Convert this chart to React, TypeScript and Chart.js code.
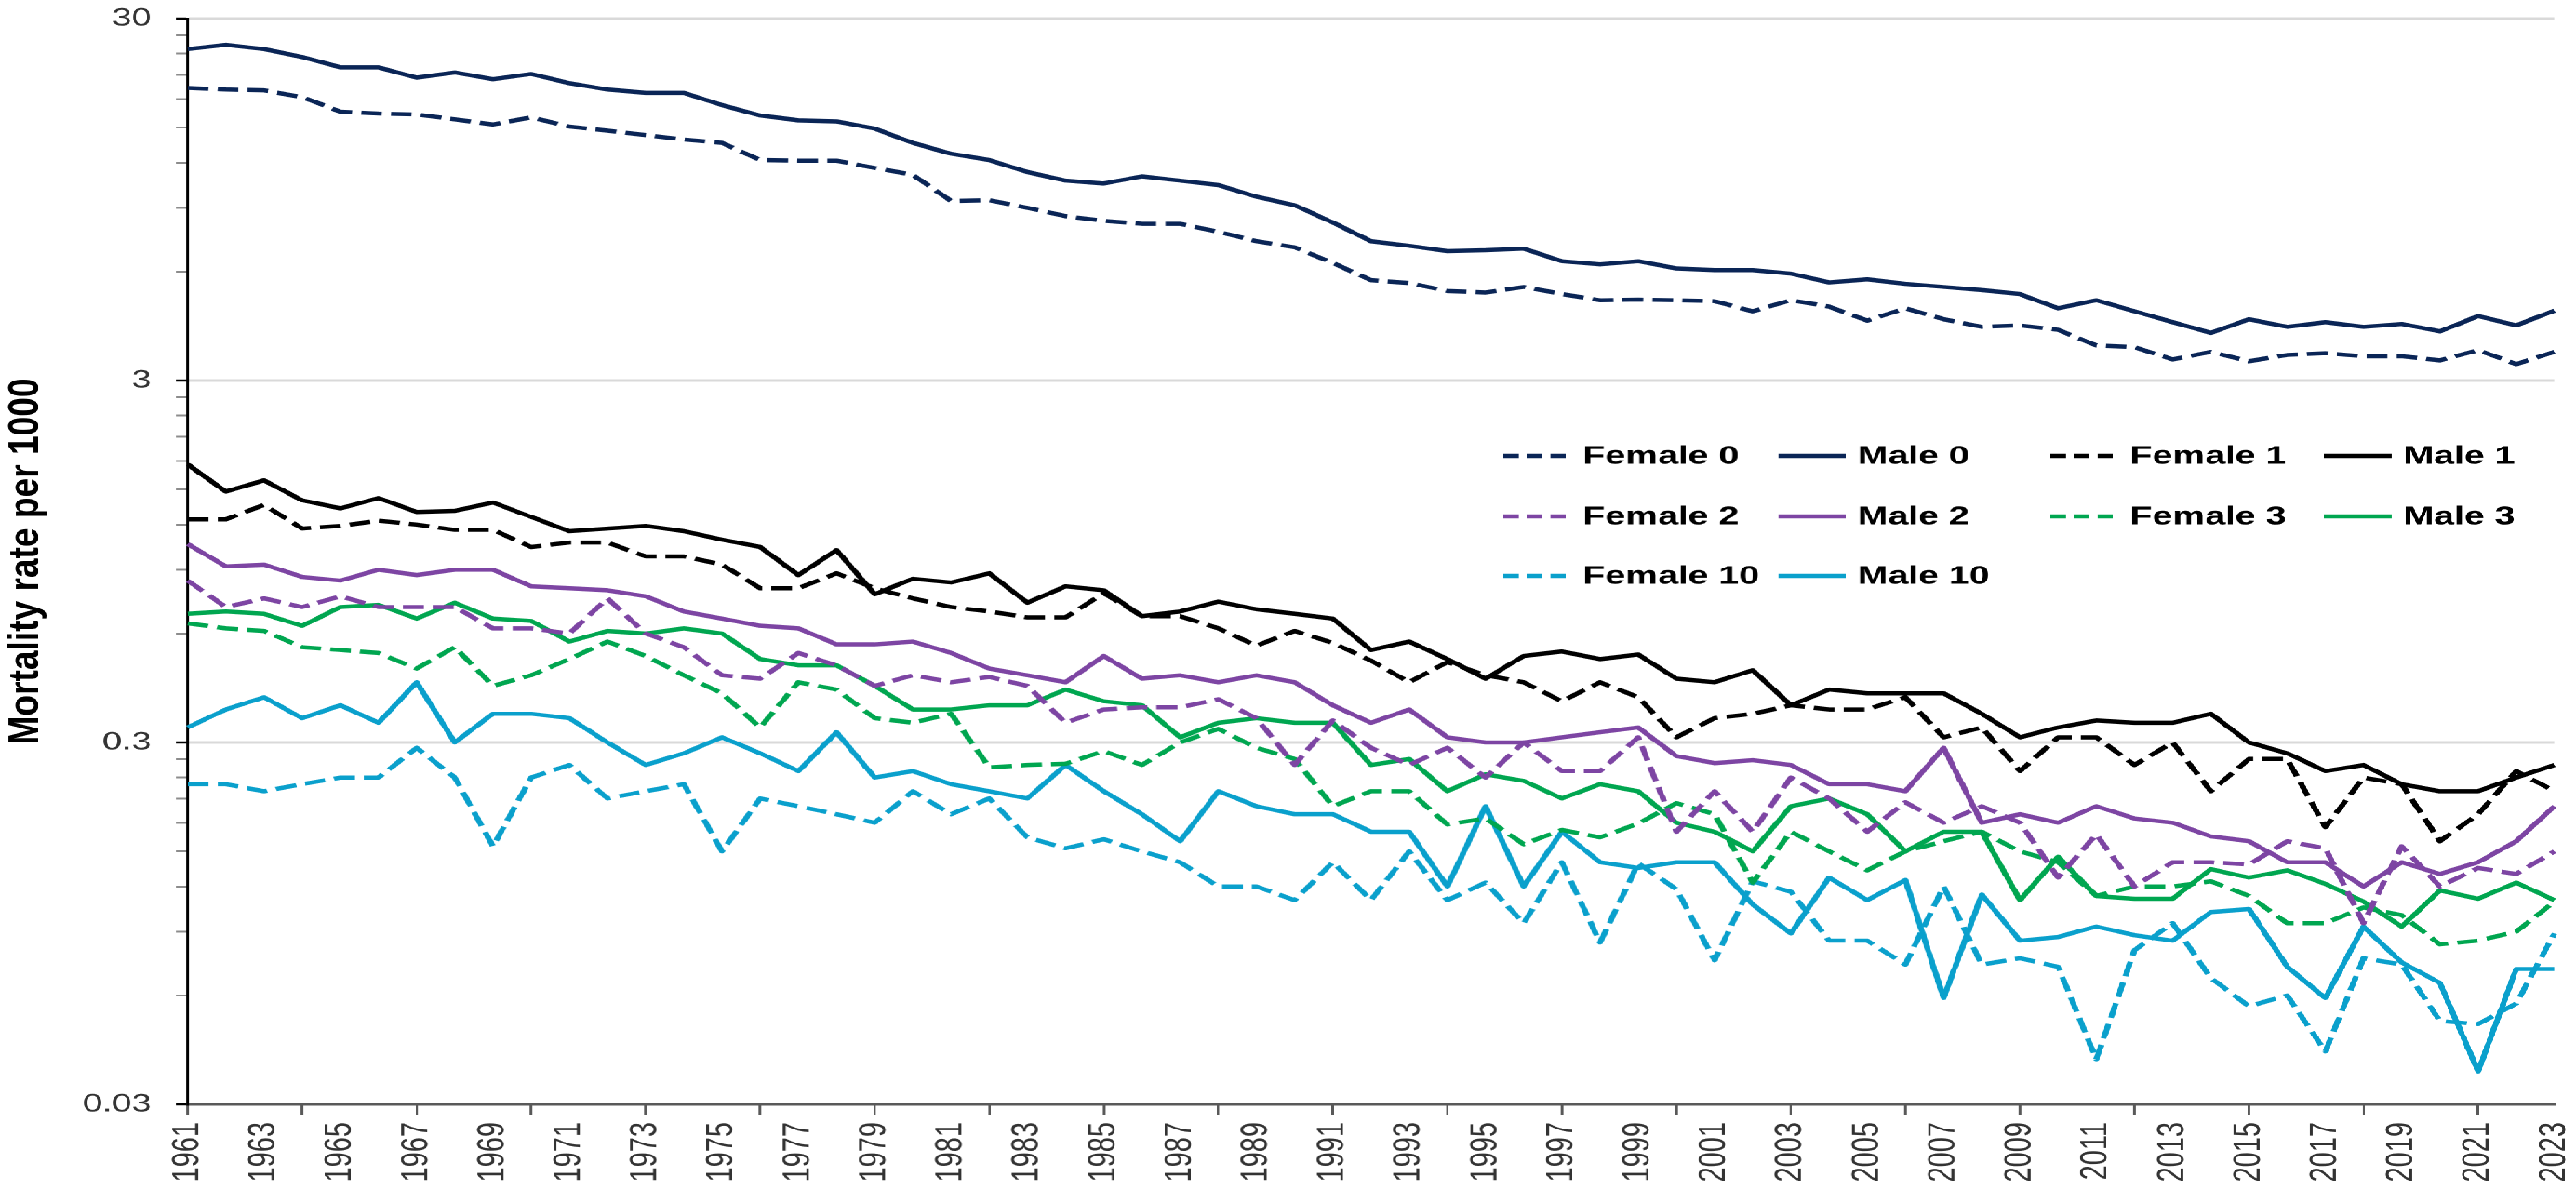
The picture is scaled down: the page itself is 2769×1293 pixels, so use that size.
import React, { useEffect, useRef } from "react";
import { Chart, registerables } from "chart.js";

Chart.register(...registerables);

// ---------- data ----------
const years = [
  "1961", "1962", "1963", "1964", "1965", "1966", "1967", "1968", "1969", "1970",
  "1971", "1972", "1973", "1974", "1975", "1976", "1977", "1978", "1979", "1980",
  "1981", "1982", "1983", "1984", "1985", "1986", "1987", "1988", "1989", "1990",
  "1991", "1992", "1993", "1994", "1995", "1996", "1997", "1998", "1999", "2000",
  "2001", "2002", "2003", "2004", "2005", "2006", "2007", "2008", "2009", "2010",
  "2011", "2012", "2013", "2014", "2015", "2016", "2017", "2018", "2019", "2020",
  "2021", "2022", "2023",
];

const female0 = [
  19.3, 19.1, 19.0, 18.2, 16.6, 16.4, 16.3, 15.8, 15.3, 16.0, 15.1, 14.7, 14.3, 13.9, 13.6, 12.2, 12.15, 12.15, 11.6, 11.1,
  9.4, 9.45, 9.0, 8.54, 8.29, 8.13, 8.13, 7.73, 7.28, 7.0, 6.34, 5.68,
  5.58, 5.3, 5.25, 5.44, 5.2, 5.0, 5.02, 5.0, 4.97, 4.66, 5.0, 4.8, 4.39, 4.75, 4.43, 4.22, 4.26, 4.14, 3.75, 3.71,
  3.43, 3.6, 3.39, 3.53, 3.57, 3.5, 3.5, 3.41, 3.64, 3.33, 3.6,
];
const male0 = [
  24.7, 25.4, 24.7, 23.5, 22.0, 22.0, 20.6, 21.3, 20.4, 21.1, 19.9, 19.1, 18.7, 18.7, 17.3, 16.2, 15.7, 15.6, 14.9, 13.6,
  12.7, 12.2, 11.3, 10.7, 10.5, 11.0, 10.7, 10.4, 9.66, 9.15, 8.2, 7.28,
  7.07, 6.83, 6.87, 6.94, 6.41, 6.28, 6.41, 6.12, 6.06, 6.06, 5.92, 5.6, 5.71, 5.55, 5.44, 5.33, 5.2, 4.75, 5.0, 4.66,
  4.35, 4.06, 4.43, 4.22, 4.35, 4.22, 4.3, 4.1, 4.52, 4.26, 4.68,
];
const female1 = [
  1.24, 1.24, 1.36, 1.17, 1.19, 1.23, 1.2, 1.16, 1.16, 1.04, 1.07, 1.07, 0.98, 0.98, 0.93, 0.8, 0.8, 0.88, 0.8, 0.75, 0.71,
  0.69, 0.665, 0.665, 0.775, 0.67, 0.67, 0.62, 0.555, 0.61, 0.565, 0.505, 0.44, 0.5, 0.46, 0.44, 0.39, 0.44, 0.4, 0.31, 0.35, 0.36,
  0.38, 0.37, 0.37, 0.4, 0.31, 0.33, 0.25, 0.31, 0.31, 0.26, 0.3, 0.22, 0.27, 0.27, 0.175, 0.24, 0.23, 0.16, 0.19, 0.25, 0.22,
];
const male1 = [
  1.76, 1.48, 1.59, 1.4, 1.33, 1.42, 1.3, 1.31, 1.38, 1.26, 1.15, 1.17, 1.19, 1.15, 1.09, 1.04, 0.87, 1.02, 0.77, 0.85, 0.83,
  0.88, 0.73, 0.81, 0.79, 0.67, 0.69, 0.735, 0.7, 0.68, 0.66, 0.54, 0.57, 0.51, 0.45, 0.52, 0.535, 0.51, 0.525, 0.45, 0.44, 0.475,
  0.38, 0.42, 0.41, 0.41, 0.41, 0.36, 0.31, 0.33, 0.345, 0.34, 0.34, 0.36, 0.3, 0.28, 0.25, 0.26, 0.23, 0.22, 0.22, 0.24, 0.26,
];
const female2 = [
  0.84, 0.71, 0.75, 0.71, 0.76, 0.71, 0.71, 0.71, 0.62, 0.62, 0.6, 0.75, 0.6, 0.55, 0.46, 0.45, 0.53, 0.49, 0.43, 0.46, 0.44,
  0.455, 0.43, 0.34, 0.37, 0.375, 0.375, 0.395, 0.35, 0.26, 0.345, 0.29, 0.26, 0.29, 0.24, 0.3, 0.25, 0.25, 0.31, 0.17, 0.22, 0.17,
  0.24, 0.21, 0.17, 0.205, 0.18, 0.2, 0.18, 0.127, 0.167, 0.12, 0.14, 0.14, 0.138, 0.16, 0.153, 0.095, 0.155, 0.12, 0.135, 0.13, 0.15,
];
const male2 = [
  1.06, 0.92, 0.93, 0.86, 0.84, 0.9, 0.87, 0.9, 0.9, 0.81, 0.8, 0.79, 0.76, 0.69, 0.66, 0.63, 0.62, 0.56, 0.56, 0.57, 0.53,
  0.48, 0.46, 0.44, 0.52, 0.45, 0.46, 0.44, 0.46, 0.44, 0.38, 0.34, 0.37, 0.31, 0.3, 0.3, 0.31, 0.32, 0.33, 0.275, 0.263, 0.268,
  0.26, 0.23, 0.23, 0.22, 0.29, 0.18, 0.19, 0.18, 0.2, 0.185, 0.18, 0.165, 0.16, 0.14, 0.14, 0.12, 0.14, 0.13, 0.14, 0.16, 0.2,
];
const female3 = [
  0.64, 0.62, 0.61, 0.55, 0.54, 0.53, 0.48, 0.55, 0.43, 0.46, 0.51, 0.57, 0.52, 0.46, 0.41, 0.33, 0.44, 0.42, 0.35, 0.34, 0.36,
  0.256, 0.26, 0.262, 0.284, 0.26, 0.3, 0.327, 0.29, 0.27, 0.2, 0.22, 0.22, 0.178, 0.185, 0.157, 0.172, 0.164, 0.179, 0.204, 0.19, 0.123,
  0.17, 0.15, 0.133, 0.15, 0.16, 0.17, 0.15, 0.14, 0.113, 0.12, 0.12, 0.124, 0.113, 0.095, 0.095, 0.105, 0.1, 0.083, 0.085, 0.09, 0.109,
];
const male3 = [
  0.68, 0.69, 0.68, 0.63, 0.71, 0.72, 0.66, 0.73, 0.66, 0.65, 0.57, 0.61, 0.6, 0.62, 0.6, 0.51, 0.49, 0.49, 0.43, 0.37, 0.37,
  0.38, 0.38, 0.42, 0.39, 0.38, 0.31, 0.34, 0.35, 0.34, 0.34, 0.26, 0.27, 0.22, 0.245, 0.235, 0.21, 0.23, 0.22, 0.18, 0.17, 0.15,
  0.2, 0.21, 0.19, 0.15, 0.17, 0.17, 0.11, 0.145, 0.113, 0.111, 0.111, 0.134, 0.127, 0.133, 0.122, 0.109, 0.093, 0.117, 0.111, 0.123, 0.11,
];
const female10 = [
  0.23, 0.23, 0.22, 0.23, 0.24, 0.24, 0.29, 0.24, 0.155, 0.24, 0.26, 0.21, 0.22, 0.23, 0.15, 0.21, 0.2, 0.19, 0.18, 0.22, 0.19,
  0.21, 0.164, 0.153, 0.162, 0.15, 0.14, 0.12, 0.12, 0.11, 0.14, 0.11, 0.15, 0.11, 0.123, 0.095, 0.14, 0.084, 0.139, 0.118, 0.075, 0.124,
  0.116, 0.085, 0.085, 0.073, 0.12, 0.073, 0.076, 0.072, 0.04, 0.08, 0.095, 0.067, 0.056, 0.06, 0.042, 0.076, 0.073, 0.051, 0.05, 0.057, 0.089,
];
const male10 = [
  0.33, 0.37, 0.4, 0.35, 0.38, 0.34, 0.44, 0.3, 0.36, 0.36, 0.35, 0.3, 0.26, 0.28, 0.31, 0.28, 0.25, 0.32, 0.24, 0.25, 0.23,
  0.22, 0.21, 0.26, 0.22, 0.19, 0.16, 0.22, 0.2, 0.19, 0.19, 0.17, 0.17, 0.12, 0.2, 0.12, 0.17, 0.14, 0.135, 0.14, 0.14, 0.107,
  0.089, 0.127, 0.11, 0.125, 0.059, 0.114, 0.085, 0.087, 0.093, 0.088, 0.085, 0.102, 0.104, 0.072, 0.059, 0.093, 0.074, 0.065, 0.037, 0.071, 0.071,
];

const seriesLabels = [
  "Female 0", "Male 0", "Female 1", "Male 1",
  "Female 2", "Male 2", "Female 3", "Male 3",
  "Female 10", "Male 10",
];
const yMajorTicks = [0.03, 0.3, 3, 30];
const yMinorSteps = [2, 3, 4, 5, 6, 7, 8, 9];
const yAxisTitle = "Mortality rate per 1000";

// ---------- styles ----------
const STRETCH = 1.4;
const FONT = '"Liberation Sans", Arial, Helvetica, sans-serif';
const NAVY = "#0a2556";
const BLACK = "#000000";
const PURPLE = "#7d45a3";
const GREEN = "#00a650";
const CYAN = "#0aa0cc";
const DASH = [16, 7];

const seriesValues = [female0, male0, female1, male1, female2, male2, female3, male3, female10, male10];
const seriesColors = [NAVY, NAVY, BLACK, BLACK, PURPLE, PURPLE, GREEN, GREEN, CYAN, CYAN];
const seriesDashed = [true, false, true, false, true, false, true, false, true, false];

const isMajor = (v: number) => yMajorTicks.some((m) => Math.abs(m - v) / m < 1e-6);

const allYTicks: number[] = (() => {
  const out: number[] = [];
  for (let d = 0; d < yMajorTicks.length; d++) {
    out.push(yMajorTicks[d]);
    if (d < yMajorTicks.length - 1) {
      for (const k of yMinorSteps) out.push(yMajorTicks[d] * k);
    }
  }
  return out;
})();

const legendPlugin = {
  id: "insideLegend",
  afterDatasetsDraw(chart: any) {
    const ctx = chart.ctx as CanvasRenderingContext2D;
    const cols = [1154, 1365, 1574, 1784];
    const rows = [490, 555, 619];
    chart.data.datasets.forEach((ds: any, i: number) => {
      const x = cols[i % 4];
      const y = rows[Math.floor(i / 4)];
      ctx.save();
      ctx.strokeStyle = ds.borderColor;
      ctx.lineWidth = 4.5;
      ctx.setLineDash(ds.borderDash && ds.borderDash.length ? [12, 6] : []);
      ctx.beginPath();
      ctx.moveTo(x, y);
      ctx.lineTo(x + 52, y);
      ctx.stroke();
      ctx.setLineDash([]);
      ctx.fillStyle = "#000";
      ctx.font = `bold 28px ${FONT}`;
      ctx.textBaseline = "middle";
      ctx.textAlign = "left";
      ctx.fillText(ds.label, x + 61, y + 1);
      ctx.restore();
    });
  },
};

const yTitlePlugin = {
  id: "yTitle",
  afterDraw(chart: any) {
    const ctx = chart.ctx as CanvasRenderingContext2D;
    const area = chart.chartArea;
    ctx.save();
    ctx.translate(20, (area.top + area.bottom) / 2);
    ctx.rotate(-Math.PI / 2);
    ctx.scale(1.16, 1);
    ctx.font = `bold 32px ${FONT}`;
    ctx.fillStyle = "#000";
    ctx.textAlign = "center";
    ctx.textBaseline = "middle";
    ctx.fillText(yAxisTitle, 0, 0);
    ctx.restore();
  },
};

export default function App() {
  const ref = useRef<HTMLCanvasElement>(null);

  useEffect(() => {
    document.body.style.margin = "0";
    document.body.style.overflow = "hidden";
    const datasets = seriesLabels.map((label, i) => ({
      label,
      data: seriesValues[i],
      borderColor: seriesColors[i],
      backgroundColor: seriesColors[i],
      borderWidth: 4.5,
      borderDash: seriesDashed[i] ? DASH : [],
      borderJoinStyle: "round" as const,
      pointRadius: 0,
      pointHoverRadius: 0,
      tension: 0,
      fill: false,
    }));

    const chart = new Chart(ref.current as HTMLCanvasElement, {
      type: "line",
      data: { labels: years, datasets },
      plugins: [legendPlugin, yTitlePlugin],
      options: {
        animation: false,
        responsive: true,
        maintainAspectRatio: false,
        devicePixelRatio: 2,
        layout: { padding: { left: 0, right: 17, top: 20, bottom: 0 } },
        plugins: {
          legend: { display: false },
          tooltip: { enabled: false },
          title: { display: false },
        },
        scales: {
          x: {
            type: "category",
            offset: false,
            grid: {
              drawOnChartArea: false,
              drawTicks: true,
              tickLength: 11,
              color: "rgba(0,0,0,0)",
              tickColor: (c: any) => (c.index % 3 === 0 ? "#595959" : "rgba(0,0,0,0)"),
              tickWidth: 2,
            },
            border: { display: true, color: "#595959", width: 3 },
            ticks: {
              autoSkip: false,
              maxRotation: 90,
              minRotation: 90,
              padding: 8,
              color: "#333333",
              font: { family: FONT, size: 29 },
              callback: (_v: any, i: number) => (i % 2 === 0 ? years[i] : ""),
            },
            afterFit: (s: any) => {
              s.height = 106;
              s.paddingLeft = 0;
              s.paddingRight = 0;
            },
          },
          y: {
            type: "logarithmic",
            min: 0.03,
            max: 30,
            afterBuildTicks: (s: any) => {
              s.ticks = allYTicks.map((v) => ({ value: v, major: isMajor(v) }));
            },
            ticks: {
              autoSkip: false,
              padding: 19,
              color: "#333333",
              font: { family: FONT, size: 27 },
              callback: (v: any) => (isMajor(Number(v)) ? String(v) : ""),
            },
            grid: {
              color: (c: any) => (c.tick && isMajor(c.tick.value) ? "#d9d9d9" : "rgba(0,0,0,0)"),
              lineWidth: 3,
              drawTicks: true,
              tickLength: 9,
              tickColor: (c: any) => (c.tick && isMajor(c.tick.value) ? "#000000" : "#8c8c8c"),
              tickWidth: (c: any) => (c.tick && isMajor(c.tick.value) ? 2.5 : 2),
            },
            border: { display: true, color: "#000000", width: 2 },
            title: { display: false },
            afterFit: (s: any) => {
              s.width = 144;
              s.paddingTop = 0;
              s.paddingBottom = 0;
            },
          },
        },
      },
    } as any);
    return () => chart.destroy();
  }, []);

  return (
    <div
      style={{
        position: "fixed",
        left: 0,
        top: 0,
        width: `calc(100vw / ${STRETCH})`,
        height: "100vh",
        transform: `scaleX(${STRETCH})`,
        transformOrigin: "0 0",
        background: "#ffffff",
      }}
    >
      <canvas ref={ref} />
    </div>
  );
}
